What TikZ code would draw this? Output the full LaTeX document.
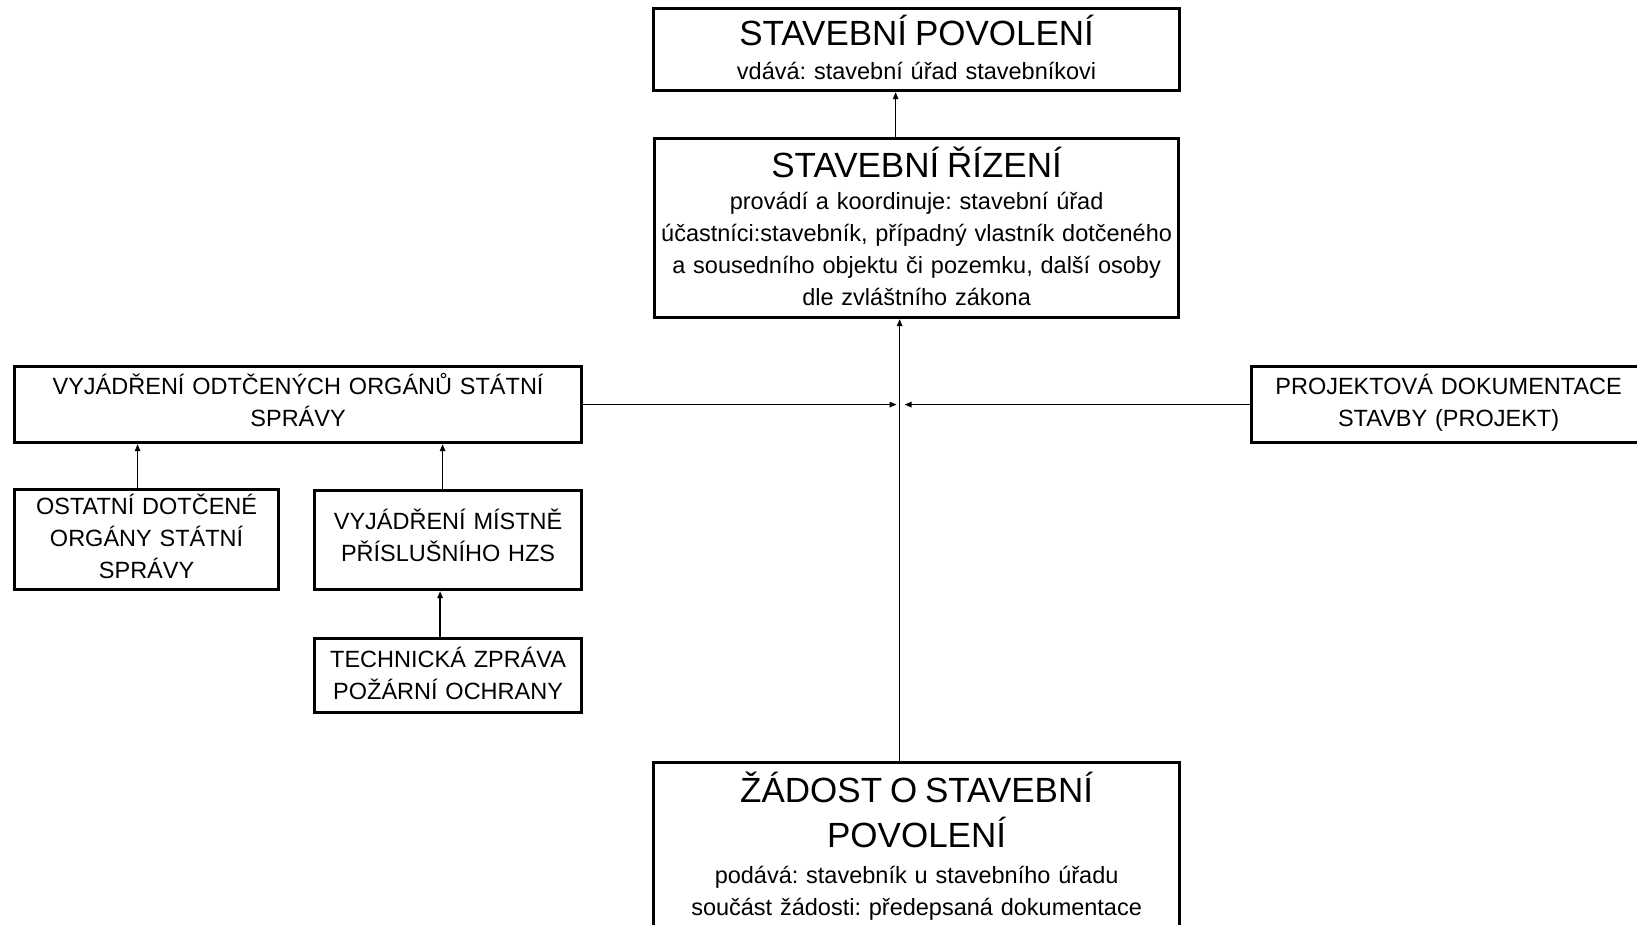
\documentclass[tikz,border=0pt]{standalone}
\usepackage{fontspec}
\setmainfont{Liberation Sans}
\usetikzlibrary{arrows.meta}
\frenchspacing
\newcommand\titlefnt{\fontsize{35}{45}\selectfont}
\newcommand\textfnt{\fontsize{23.5}{32}\selectfont\lineskiplimit=-50pt}

\begin{document}
\begin{tikzpicture}[x=1pt, y=-1pt,
        box/.style={draw, line width=3.2pt, inner sep=0pt, align=center, font=\textfnt, anchor=north west},
        arr/.style={line width=1.3pt, -{Triangle[length=7pt,width=5.5pt]}}]
    \useasboundingbox (0,0) rectangle (1637,925);

    % main column
    \node[box, text width=526pt, text height=37pt, text depth=45pt] (povoleni) at (652,7)
        {{\titlefnt STAVEBNÍ POVOLENÍ}\\[1.5pt] vdává: stavební úřad stavebníkovi};
    \node[box, text width=524pt, text height=38.5pt, text depth=140.5pt] (rizeni) at (653,137)
        {{\titlefnt STAVEBNÍ ŘÍZENÍ}\\[0.5pt] provádí a koordinuje: stavební úřad\\
         účastníci:stavebník, případný vlastník dotčeného\\
         a sousedního objektu či pozemku, další osoby\\ dle zvláštního zákona};
    \node[box, text width=526pt, text height=39.5pt, text depth=139.5pt] (zadost) at (652,761)
        {{\titlefnt ŽÁDOST O STAVEBNÍ}\\[13pt]{\titlefnt POVOLENÍ}\\[4pt]
         podává: stavebník u stavebního úřadu\\ součást žádosti: předepsaná dokumentace};

    % side boxes
    \node[box, text width=567pt, text height=27.75pt, text depth=48.25pt] (odt) at (13,365)
        {VYJÁDŘENÍ ODTČENÝCH ORGÁNŮ STÁTNÍ\\ SPRÁVY};
    \node[box, text width=394pt, text height=27.75pt, text depth=48.25pt] (proj) at (1250,365)
        {PROJEKTOVÁ DOKUMENTACE\\ STAVBY (PROJEKT)};
    \node[box, text width=264pt, text height=25pt, text depth=75pt] (ost) at (13,488)
        {OSTATNÍ DOTČENÉ\\ ORGÁNY STÁTNÍ\\ SPRÁVY};
    \node[box, text width=267pt, text height=39pt, text depth=60pt] (hzs) at (313,489)
        {VYJÁDŘENÍ MÍSTNĚ\\ PŘÍSLUŠNÍHO HZS};
    \node[box, text width=267pt, text height=28.75pt, text depth=45.25pt] (tech) at (313,637)
        {TECHNICKÁ ZPRÁVA\\ POŽÁRNÍ OCHRANY};

    % connectors
    \coordinate (join) at ([xshift=-17pt]zadost.north |- odt.east);
    \draw[arr] ([xshift=-21pt]rizeni.north) -- ([xshift=-21pt]rizeni.north |- povoleni.south);
    \draw[arr] ([xshift=-17pt]zadost.north) -- ([xshift=-17pt]zadost.north |- rizeni.south);
    \draw[arr] (odt.east) -- ([xshift=-3pt]join);
    \draw[arr] (proj.west) -- ([xshift=5pt]join);
    \draw[arr] ([xshift=-9pt]ost.north) -- ([xshift=-9pt]ost.north |- odt.south);
    \draw[arr] ([xshift=-5.5pt]hzs.north) -- ([xshift=-5.5pt]hzs.north |- odt.south);
    \draw[arr] ([xshift=-8pt]tech.north) -- ([xshift=-8pt]tech.north |- hzs.south);
\end{tikzpicture}
\end{document}
